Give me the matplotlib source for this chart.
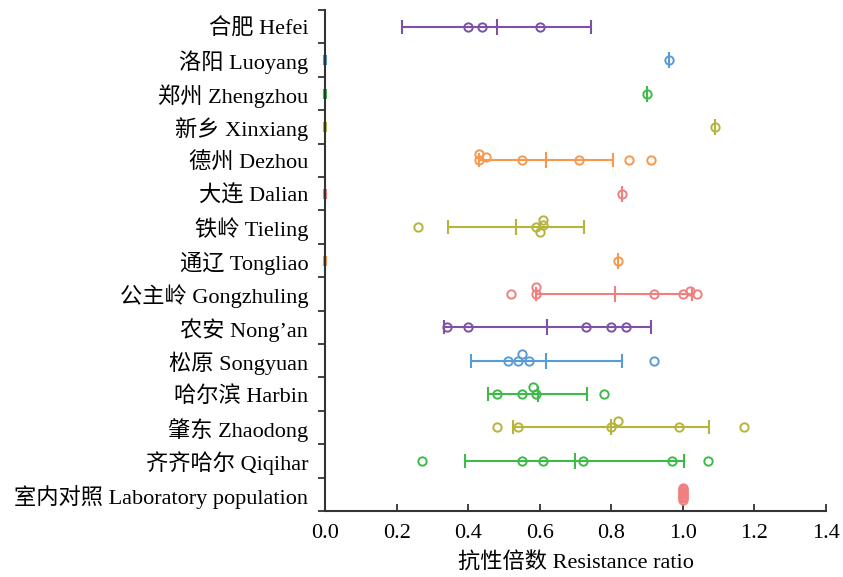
import numpy as np
import matplotlib.pyplot as plt
from matplotlib.ticker import FixedLocator

plt.rcParams['font.family'] = ['Liberation Serif', 'Noto Sans CJK SC']

SITES = ["合肥 Hefei", "洛阳 Luoyang", "郑州 Zhengzhou", "新乡 Xinxiang",
         "德州 Dezhou", "大连 Dalian", "铁岭 Tieling", "通辽 Tongliao",
         "公主岭 Gongzhuling", "农安 Nong\u2019an", "松原 Songyuan",
         "哈尔滨 Harbin", "肇东 Zhaodong", "齐齐哈尔 Qiqihar",
         "室内对照 Laboratory population"]

# individual resistance ratios per site
RATIOS = [
    [0.40, 0.44, 0.60],
    [0.96],
    [0.90],
    [1.09],
    [0.43, 0.43, 0.45, 0.55, 0.71, 0.85, 0.91],
    [0.83],
    [0.26, 0.59, 0.61, 0.60, 0.61],
    [0.82],
    [0.52, 0.59, 0.59, 0.92, 1.00, 1.02, 1.04],
    [0.34, 0.40, 0.73, 0.80, 0.84],
    [0.51, 0.54, 0.55, 0.57, 0.92],
    [0.48, 0.55, 0.59, 0.58, 0.78],
    [0.48, 0.54, 0.80, 0.82, 0.99, 1.17],
    [0.27, 0.55, 0.61, 0.72, 0.97, 1.07],
    [1.0, 1.0, 1.0, 1.0, 1.0, 1.0, 1.0, 1.0, 1.0, 1.0],
]
MEANS = [0.48, 0.96, 0.90, 1.09, 0.617, 0.83, 0.533, 0.82, 0.811, 0.620,
         0.617, 0.595, 0.80, 0.699, 1.0]
CI_LOW = [0.216, None, None, None, 0.43, None, 0.343, None, 0.59, 0.332,
          0.407, 0.456, 0.524, 0.392, 1.0]
CI_HIGH = [0.742, None, None, None, 0.806, None, 0.724, None, 1.025, 0.911,
           0.829, 0.733, 1.073, 1.004, 1.0]

PURPLE = "#7d51a3"
BLUE = "#5b9bd5"
GREEN = "#3fba4a"
OLIVE = "#b6b43a"
ORANGE = "#f7984f"
PINK = "#f17f80"
COLORS = [PURPLE, BLUE, GREEN, OLIVE, ORANGE, PINK, OLIVE, ORANGE, PINK,
          PURPLE, BLUE, GREEN, OLIVE, GREEN, PINK]

XMAX = 1.4
FS = 16


def swarm_offsets(vals, px_x, px_y, diam=7.5, step=6.5, max_off=0.2):
    # simple beeswarm: stack overlapping points up/down
    placed = []
    offs = []
    for v in vals:
        k = 0
        while True:
            cand = [0] if k == 0 else [k * step, -k * step]
            ok = None
            for c in cand:
                if all(np.hypot((v - pv) * px_x, c - pc) >= diam for pv, pc in placed):
                    ok = c
                    break
            if ok is not None:
                break
            k += 1
        placed.append((v, ok))
        offs.append(ok / px_y)
    offs = np.array(offs)
    if len(offs) and np.abs(offs).max() > max_off:
        offs = offs / np.abs(offs).max() * max_off
    return offs


fig = plt.figure(figsize=(8.43, 5.77), dpi=100)
ax = fig.add_axes([325 / 843, 1 - 511 / 577, 501 / 843, 501 / 577])

n = len(SITES)
px_x = 501 / XMAX
px_y = 501 / n

for i in range(n):
    y = n - 1 - i
    c = COLORS[i]
    vals = RATIOS[i]
    offs = swarm_offsets(vals, px_x, px_y)
    if CI_LOW[i] is not None:
        ax.errorbar([MEANS[i]], [y], xerr=[[MEANS[i] - CI_LOW[i]], [CI_HIGH[i] - MEANS[i]]],
                    fmt='none', ecolor=c, elinewidth=1.5, capsize=5, capthick=1.5, zorder=2)
    else:
        ax.plot([0], [y], marker='|', markersize=7, mew=3, color=c, clip_on=False, zorder=1)
    ax.plot([MEANS[i]], [y], marker='|', markersize=12, mew=1.5, color=c, zorder=2)
    ax.plot(vals, y + offs, linestyle='none', marker='o', markersize=6,
            markerfacecolor='none', markeredgecolor=c, markeredgewidth=1.4, zorder=3)

ax.set_xlim(0, XMAX)
ax.set_ylim(-0.5, n - 0.5)
ax.set_xticks(np.arange(0, 1.41, 0.2))
ax.set_xticklabels([f"{t:.1f}" for t in np.arange(0, 1.41, 0.2)])
ax.set_yticks(np.arange(n))
ax.set_yticklabels(SITES[::-1])
ax.yaxis.set_minor_locator(FixedLocator(np.arange(-0.5, n, 1.0)))

ax.tick_params(axis='y', which='major', length=0, pad=12, labelsize=FS)
ax.tick_params(axis='y', which='minor', length=5, width=1.3, direction='out', color='#333333')
ax.tick_params(axis='x', which='major', length=5, width=1.3, direction='in', pad=9,
               labelsize=FS, color='#333333')

for s in ['top', 'right']:
    ax.spines[s].set_visible(False)
for s in ['left', 'bottom']:
    ax.spines[s].set_linewidth(1.5)
    ax.spines[s].set_color('#333333')

ax.set_xlabel("抗性倍数 Resistance ratio", fontsize=FS, labelpad=7)

fig.savefig("out.png", dpi=100)
